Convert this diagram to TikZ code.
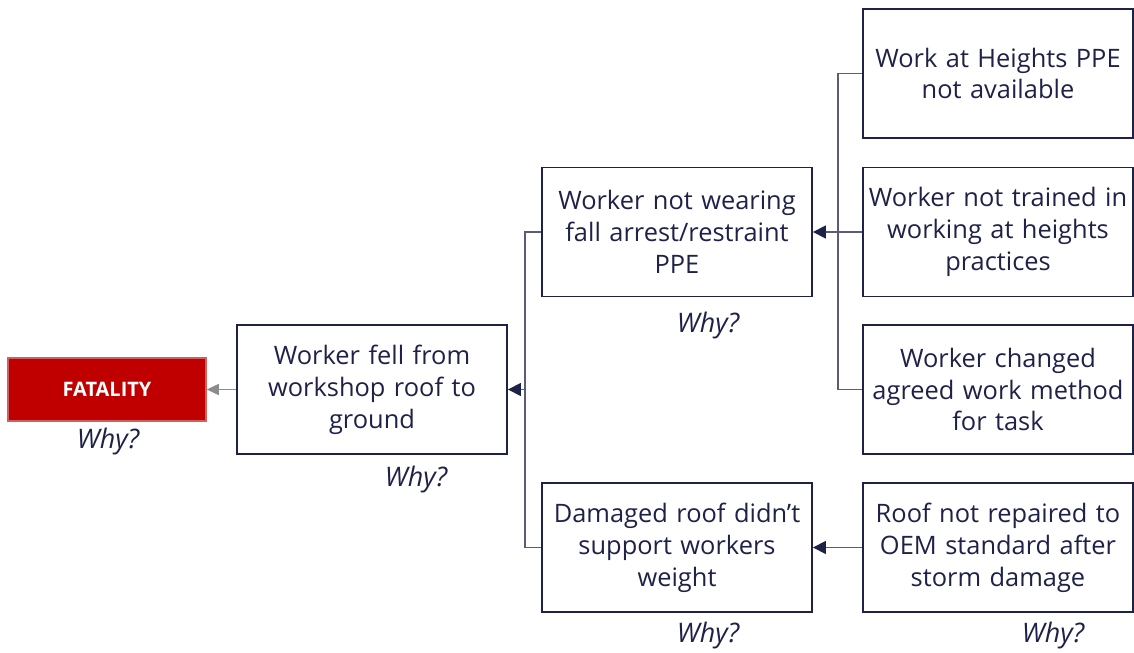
\documentclass[tikz,border=0pt]{standalone}
\usepackage{fontspec}
\setmainfont{Open Sans}
\usetikzlibrary{arrows.meta,positioning}
\definecolor{navy}{HTML}{1E2148}
\definecolor{connc}{HTML}{5A5C7A}
\definecolor{fatred}{HTML}{C00000}
\definecolor{fatborder}{HTML}{D06060}
\begin{document}
\begin{tikzpicture}[x=1bp,y=-1bp,
  box/.style={draw=navy, line width=1.8bp, minimum width=270bp, minimum height=129bp,
    text width=268bp, align=center, text=navy, font=\fontsize{25.5}{32}\selectfont, inner sep=0pt},
  fat/.style={fill=fatred, draw=fatborder, line width=1.5bp, minimum width=198bp, minimum height=63bp,
    text=white, font=\bfseries\fontsize{20}{24}\selectfont, inner sep=0pt},
  why/.style={text=navy, font=\itshape\fontsize{27}{30}\selectfont, inner sep=0pt},
  conn/.style={draw=connc, line width=1.3bp},
  arr/.style={conn, arrows={-{Triangle[length=13bp,width=13bp,color=navy,fill=navy]}}},
  garr/.style={draw=gray!90, line width=1.5bp, -{Triangle[length=12bp,width=11bp]}}
]
\useasboundingbox (0,0) rectangle (1134,653);
\node[fat] (fat) at (107,389.5) {FATALITY};
\node[why] (w0) at (108,442) {Why?};
\node[box] (b1) at (372,389.5) {Worker fell from\\workshop roof to\\ground};
\node[why] (w1) at (416,480) {Why?};
\node[box] (b2) at (677,232) {Worker not wearing\\fall arrest/restraint\\PPE};
\node[why] (w2) at (708,326) {Why?};
\node[box] (b3) at (677,547.5) {Damaged roof didn’t\\support workers\\weight};
\node[why] (w3) at (708,636) {Why?};
\node[box] (r1) at (998,73.5) {Work at Heights PPE\\not available};
\node[box] (r2) at (998,232) {Worker not trained in\\working at heights\\practices};
\node[box] (r3) at (998,389.5) {Worker changed\\agreed work method\\for task};
\node[box] (r4) at (998,547.5) {Roof not repaired to\\OEM standard after\\storm damage};
\node[why] (w4) at (1053,636) {Why?};
\coordinate (j1) at (525,389.5);
\coordinate (j2) at (838,232);
\draw[conn] (b2.west) -- (b2.west -| j1) |- (b3.west);
\draw[arr] (j1) -- (b1.east);
\draw[conn] (r1.west) -- (r1.west -| j2) |- (r3.west);
\draw[conn] (r2.west) -- (j2);
\draw[arr] (j2) -- (b2.east);
\draw[arr] (r4.west) -- (b3.east);
\draw[garr] (b1.west) -- (fat.east);
\end{tikzpicture}
\end{document}
